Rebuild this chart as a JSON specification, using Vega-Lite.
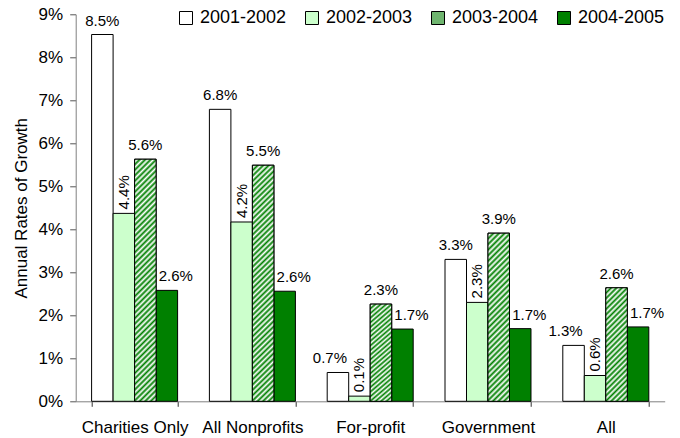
{
  "$schema": "https://vega.github.io/schema/vega-lite/v6.json",
  "width": 589,
  "height": 387,
  "autosize": "none",
  "padding": {"left": 75.7, "top": 14.3, "right": 15.3, "bottom": 36.7},
  "background": "#ffffff",
  "config": {
    "view": {"stroke": null},
    "font": "Liberation Sans",
    "text": {"font": "Liberation Sans"}
  },
  "data": {
    "values": [
      {"sector": "Charities Only", "period": "2001-2002", "rate": 0.0853},
      {"sector": "Charities Only", "period": "2002-2003", "rate": 0.0437},
      {"sector": "Charities Only", "period": "2003-2004", "rate": 0.0563},
      {"sector": "Charities Only", "period": "2004-2005", "rate": 0.0258},
      {"sector": "All Nonprofits", "period": "2001-2002", "rate": 0.0679},
      {"sector": "All Nonprofits", "period": "2002-2003", "rate": 0.0417},
      {"sector": "All Nonprofits", "period": "2003-2004", "rate": 0.0549},
      {"sector": "All Nonprofits", "period": "2004-2005", "rate": 0.0256},
      {"sector": "For-profit", "period": "2001-2002", "rate": 0.0067},
      {"sector": "For-profit", "period": "2002-2003", "rate": 0.0012},
      {"sector": "For-profit", "period": "2003-2004", "rate": 0.0226},
      {"sector": "For-profit", "period": "2004-2005", "rate": 0.0168},
      {"sector": "Government", "period": "2001-2002", "rate": 0.0330},
      {"sector": "Government", "period": "2002-2003", "rate": 0.0230},
      {"sector": "Government", "period": "2003-2004", "rate": 0.0391},
      {"sector": "Government", "period": "2004-2005", "rate": 0.0169},
      {"sector": "All", "period": "2001-2002", "rate": 0.0130},
      {"sector": "All", "period": "2002-2003", "rate": 0.0060},
      {"sector": "All", "period": "2003-2004", "rate": 0.0264},
      {"sector": "All", "period": "2004-2005", "rate": 0.0173}
    ]
  },
  "encoding": {
    "x": {
      "field": "sector",
      "type": "nominal",
      "sort": ["Charities Only", "All Nonprofits", "For-profit", "Government", "All"],
      "scale": {"paddingInner": 0.27, "paddingOuter": 0.135},
      "axis": {
        "title": null,
        "labelAngle": 0,
        "tickBand": "extent",
        "labelFontSize": 17,
        "labelColor": "#000",
        "labelPadding": 13,
        "tickSize": 5,
        "domainColor": "#808080",
        "tickColor": "#333333"
      }
    },
    "xOffset": {
      "field": "period",
      "type": "nominal",
      "sort": ["2001-2002", "2002-2003", "2003-2004", "2004-2005"],
      "scale": {"paddingInner": 0, "paddingOuter": 0}
    },
    "y": {
      "field": "rate",
      "type": "quantitative",
      "scale": {"domain": [0, 0.09], "nice": false},
      "axis": {
        "title": "Annual Rates of Growth",
        "titleFontSize": 17,
        "titleFontWeight": "normal",
        "titleColor": "#000",
        "titlePadding": 8,
        "format": ".0%",
        "values": [0, 0.01, 0.02, 0.03, 0.04, 0.05, 0.06, 0.07, 0.08, 0.09],
        "grid": false,
        "labelFontSize": 17,
        "labelColor": "#000",
        "labelPadding": 7,
        "tickSize": 6,
        "domainColor": "#808080",
        "tickColor": "#555555"
      }
    }
  },
  "layer": [
    {
      "mark": {"type": "bar", "stroke": "#000000", "strokeWidth": 1},
      "encoding": {
        "color": {
          "field": "period",
          "type": "nominal",
          "sort": ["2001-2002", "2002-2003", "2003-2004", "2004-2005"],
          "scale": {"range": ["#ffffff", "#ccffcc", "#6fb56f", "#008000"]},
          "legend": {
            "orient": "none",
            "legendX": 101.3,
            "legendY": -5.3,
            "direction": "horizontal",
            "columns": 4,
            "title": null,
            "padding": 0,
            "symbolType": "square",
            "symbolSize": 169,
            "symbolStrokeColor": "#000000",
            "symbolStrokeWidth": 1,
            "symbolOpacity": 1,
            "labelFontSize": 18,
            "labelColor": "#000",
            "labelOffset": 5,
            "columnPadding": 16,
            "encode": {
              "symbols": {
                "update": {
                  "stroke": {"value": "#000000"},
                  "strokeWidth": {"value": 1}
                }
              }
            }
          }
        }
      }
    },
    {
      "transform": [{"filter": "datum.period == '2003-2004'"}],
      "mark": {"type": "bar", "stroke": "#000000", "strokeWidth": 1},
      "encoding": {
        "fill": {
          "condition": [
            {"test": "datum.sector == 'Charities Only' || datum.sector == 'All Nonprofits'", "value": {"gradient": "linear", "x1": 0, "y1": 0, "x2": 0.09594, "y2": 1.08029, "stops": [
              {"offset": 0, "color": "#008000"}, {"offset": 0.0104, "color": "#ffffff"}, {"offset": 0.0208, "color": "#008000"}, {"offset": 0.0313, "color": "#ffffff"},
              {"offset": 0.0417, "color": "#008000"}, {"offset": 0.0521, "color": "#ffffff"}, {"offset": 0.0625, "color": "#008000"}, {"offset": 0.0729, "color": "#ffffff"},
              {"offset": 0.0833, "color": "#008000"}, {"offset": 0.0938, "color": "#ffffff"}, {"offset": 0.1042, "color": "#008000"}, {"offset": 0.1146, "color": "#ffffff"},
              {"offset": 0.125, "color": "#008000"}, {"offset": 0.1354, "color": "#ffffff"}, {"offset": 0.1458, "color": "#008000"}, {"offset": 0.1563, "color": "#ffffff"},
              {"offset": 0.1667, "color": "#008000"}, {"offset": 0.1771, "color": "#ffffff"}, {"offset": 0.1875, "color": "#008000"}, {"offset": 0.1979, "color": "#ffffff"},
              {"offset": 0.2083, "color": "#008000"}, {"offset": 0.2188, "color": "#ffffff"}, {"offset": 0.2292, "color": "#008000"}, {"offset": 0.2396, "color": "#ffffff"},
              {"offset": 0.25, "color": "#008000"}, {"offset": 0.2604, "color": "#ffffff"}, {"offset": 0.2708, "color": "#008000"}, {"offset": 0.2813, "color": "#ffffff"},
              {"offset": 0.2917, "color": "#008000"}, {"offset": 0.3021, "color": "#ffffff"}, {"offset": 0.3125, "color": "#008000"}, {"offset": 0.3229, "color": "#ffffff"},
              {"offset": 0.3333, "color": "#008000"}, {"offset": 0.3438, "color": "#ffffff"}, {"offset": 0.3542, "color": "#008000"}, {"offset": 0.3646, "color": "#ffffff"},
              {"offset": 0.375, "color": "#008000"}, {"offset": 0.3854, "color": "#ffffff"}, {"offset": 0.3958, "color": "#008000"}, {"offset": 0.4063, "color": "#ffffff"},
              {"offset": 0.4167, "color": "#008000"}, {"offset": 0.4271, "color": "#ffffff"}, {"offset": 0.4375, "color": "#008000"}, {"offset": 0.4479, "color": "#ffffff"},
              {"offset": 0.4583, "color": "#008000"}, {"offset": 0.4688, "color": "#ffffff"}, {"offset": 0.4792, "color": "#008000"}, {"offset": 0.4896, "color": "#ffffff"},
              {"offset": 0.5, "color": "#008000"}, {"offset": 0.5104, "color": "#ffffff"}, {"offset": 0.5208, "color": "#008000"}, {"offset": 0.5313, "color": "#ffffff"},
              {"offset": 0.5417, "color": "#008000"}, {"offset": 0.5521, "color": "#ffffff"}, {"offset": 0.5625, "color": "#008000"}, {"offset": 0.5729, "color": "#ffffff"},
              {"offset": 0.5833, "color": "#008000"}, {"offset": 0.5938, "color": "#ffffff"}, {"offset": 0.6042, "color": "#008000"}, {"offset": 0.6146, "color": "#ffffff"},
              {"offset": 0.625, "color": "#008000"}, {"offset": 0.6354, "color": "#ffffff"}, {"offset": 0.6458, "color": "#008000"}, {"offset": 0.6563, "color": "#ffffff"},
              {"offset": 0.6667, "color": "#008000"}, {"offset": 0.6771, "color": "#ffffff"}, {"offset": 0.6875, "color": "#008000"}, {"offset": 0.6979, "color": "#ffffff"},
              {"offset": 0.7083, "color": "#008000"}, {"offset": 0.7188, "color": "#ffffff"}, {"offset": 0.7292, "color": "#008000"}, {"offset": 0.7396, "color": "#ffffff"},
              {"offset": 0.75, "color": "#008000"}, {"offset": 0.7604, "color": "#ffffff"}, {"offset": 0.7708, "color": "#008000"}, {"offset": 0.7813, "color": "#ffffff"},
              {"offset": 0.7917, "color": "#008000"}, {"offset": 0.8021, "color": "#ffffff"}, {"offset": 0.8125, "color": "#008000"}, {"offset": 0.8229, "color": "#ffffff"},
              {"offset": 0.8333, "color": "#008000"}, {"offset": 0.8438, "color": "#ffffff"}, {"offset": 0.8542, "color": "#008000"}, {"offset": 0.8646, "color": "#ffffff"},
              {"offset": 0.875, "color": "#008000"}, {"offset": 0.8854, "color": "#ffffff"}, {"offset": 0.8958, "color": "#008000"}, {"offset": 0.9063, "color": "#ffffff"},
              {"offset": 0.9167, "color": "#008000"}, {"offset": 0.9271, "color": "#ffffff"}, {"offset": 0.9375, "color": "#008000"}, {"offset": 0.9479, "color": "#ffffff"},
              {"offset": 0.9583, "color": "#008000"}, {"offset": 0.9688, "color": "#ffffff"}, {"offset": 0.9792, "color": "#008000"}, {"offset": 0.9896, "color": "#ffffff"},
              {"offset": 1, "color": "#008000"}
            ]}},
            {"test": "datum.sector == 'Government'", "value": {"gradient": "linear", "x1": 0, "y1": 0, "x2": 0.14194, "y2": 1.10975, "stops": [
              {"offset": 0, "color": "#008000"}, {"offset": 0.0147, "color": "#ffffff"}, {"offset": 0.0294, "color": "#008000"}, {"offset": 0.0441, "color": "#ffffff"},
              {"offset": 0.0588, "color": "#008000"}, {"offset": 0.0735, "color": "#ffffff"}, {"offset": 0.0882, "color": "#008000"}, {"offset": 0.1029, "color": "#ffffff"},
              {"offset": 0.1176, "color": "#008000"}, {"offset": 0.1324, "color": "#ffffff"}, {"offset": 0.1471, "color": "#008000"}, {"offset": 0.1618, "color": "#ffffff"},
              {"offset": 0.1765, "color": "#008000"}, {"offset": 0.1912, "color": "#ffffff"}, {"offset": 0.2059, "color": "#008000"}, {"offset": 0.2206, "color": "#ffffff"},
              {"offset": 0.2353, "color": "#008000"}, {"offset": 0.25, "color": "#ffffff"}, {"offset": 0.2647, "color": "#008000"}, {"offset": 0.2794, "color": "#ffffff"},
              {"offset": 0.2941, "color": "#008000"}, {"offset": 0.3088, "color": "#ffffff"}, {"offset": 0.3235, "color": "#008000"}, {"offset": 0.3382, "color": "#ffffff"},
              {"offset": 0.3529, "color": "#008000"}, {"offset": 0.3676, "color": "#ffffff"}, {"offset": 0.3824, "color": "#008000"}, {"offset": 0.3971, "color": "#ffffff"},
              {"offset": 0.4118, "color": "#008000"}, {"offset": 0.4265, "color": "#ffffff"}, {"offset": 0.4412, "color": "#008000"}, {"offset": 0.4559, "color": "#ffffff"},
              {"offset": 0.4706, "color": "#008000"}, {"offset": 0.4853, "color": "#ffffff"}, {"offset": 0.5, "color": "#008000"}, {"offset": 0.5147, "color": "#ffffff"},
              {"offset": 0.5294, "color": "#008000"}, {"offset": 0.5441, "color": "#ffffff"}, {"offset": 0.5588, "color": "#008000"}, {"offset": 0.5735, "color": "#ffffff"},
              {"offset": 0.5882, "color": "#008000"}, {"offset": 0.6029, "color": "#ffffff"}, {"offset": 0.6176, "color": "#008000"}, {"offset": 0.6324, "color": "#ffffff"},
              {"offset": 0.6471, "color": "#008000"}, {"offset": 0.6618, "color": "#ffffff"}, {"offset": 0.6765, "color": "#008000"}, {"offset": 0.6912, "color": "#ffffff"},
              {"offset": 0.7059, "color": "#008000"}, {"offset": 0.7206, "color": "#ffffff"}, {"offset": 0.7353, "color": "#008000"}, {"offset": 0.75, "color": "#ffffff"},
              {"offset": 0.7647, "color": "#008000"}, {"offset": 0.7794, "color": "#ffffff"}, {"offset": 0.7941, "color": "#008000"}, {"offset": 0.8088, "color": "#ffffff"},
              {"offset": 0.8235, "color": "#008000"}, {"offset": 0.8382, "color": "#ffffff"}, {"offset": 0.8529, "color": "#008000"}, {"offset": 0.8676, "color": "#ffffff"},
              {"offset": 0.8824, "color": "#008000"}, {"offset": 0.8971, "color": "#ffffff"}, {"offset": 0.9118, "color": "#008000"}, {"offset": 0.9265, "color": "#ffffff"},
              {"offset": 0.9412, "color": "#008000"}, {"offset": 0.9559, "color": "#ffffff"}, {"offset": 0.9706, "color": "#008000"}, {"offset": 0.9853, "color": "#ffffff"},
              {"offset": 1, "color": "#008000"}
            ]}}
          ],
          "value": {"gradient": "linear", "x1": 0, "y1": 0, "x2": 0.2175, "y2": 1.14823, "stops": [
            {"offset": 0, "color": "#008000"}, {"offset": 0.02, "color": "#ffffff"}, {"offset": 0.04, "color": "#008000"}, {"offset": 0.06, "color": "#ffffff"},
            {"offset": 0.08, "color": "#008000"}, {"offset": 0.1, "color": "#ffffff"}, {"offset": 0.12, "color": "#008000"}, {"offset": 0.14, "color": "#ffffff"},
            {"offset": 0.16, "color": "#008000"}, {"offset": 0.18, "color": "#ffffff"}, {"offset": 0.2, "color": "#008000"}, {"offset": 0.22, "color": "#ffffff"},
            {"offset": 0.24, "color": "#008000"}, {"offset": 0.26, "color": "#ffffff"}, {"offset": 0.28, "color": "#008000"}, {"offset": 0.3, "color": "#ffffff"},
            {"offset": 0.32, "color": "#008000"}, {"offset": 0.34, "color": "#ffffff"}, {"offset": 0.36, "color": "#008000"}, {"offset": 0.38, "color": "#ffffff"},
            {"offset": 0.4, "color": "#008000"}, {"offset": 0.42, "color": "#ffffff"}, {"offset": 0.44, "color": "#008000"}, {"offset": 0.46, "color": "#ffffff"},
            {"offset": 0.48, "color": "#008000"}, {"offset": 0.5, "color": "#ffffff"}, {"offset": 0.52, "color": "#008000"}, {"offset": 0.54, "color": "#ffffff"},
            {"offset": 0.56, "color": "#008000"}, {"offset": 0.58, "color": "#ffffff"}, {"offset": 0.6, "color": "#008000"}, {"offset": 0.62, "color": "#ffffff"},
            {"offset": 0.64, "color": "#008000"}, {"offset": 0.66, "color": "#ffffff"}, {"offset": 0.68, "color": "#008000"}, {"offset": 0.7, "color": "#ffffff"},
            {"offset": 0.72, "color": "#008000"}, {"offset": 0.74, "color": "#ffffff"}, {"offset": 0.76, "color": "#008000"}, {"offset": 0.78, "color": "#ffffff"},
            {"offset": 0.8, "color": "#008000"}, {"offset": 0.82, "color": "#ffffff"}, {"offset": 0.84, "color": "#008000"}, {"offset": 0.86, "color": "#ffffff"},
            {"offset": 0.88, "color": "#008000"}, {"offset": 0.9, "color": "#ffffff"}, {"offset": 0.92, "color": "#008000"}, {"offset": 0.94, "color": "#ffffff"},
            {"offset": 0.96, "color": "#008000"}, {"offset": 0.98, "color": "#ffffff"}, {"offset": 1, "color": "#008000"}
          ]}
        }
      }
    },
    {
      "transform": [{"filter": "(datum.period == '2001-2002' || datum.period == '2003-2004') && !(datum.period == '2001-2002' && (datum.sector == 'For-profit' || datum.sector == 'All'))"}],
      "mark": {"type": "text", "baseline": "alphabetic", "align": "center", "dy": -9, "fontSize": 15, "color": "#000"},
      "encoding": {"text": {"field": "rate", "format": ".1%"}}
    },
    {
      "transform": [{"filter": "datum.period == '2001-2002' && (datum.sector == 'For-profit' || datum.sector == 'All')"}],
      "mark": {"type": "text", "baseline": "alphabetic", "align": "center", "dy": -9, "dx": -8, "fontSize": 15, "color": "#000"},
      "encoding": {"text": {"field": "rate", "format": ".1%"}}
    },
    {
      "transform": [{"filter": "datum.period == '2004-2005'"}],
      "mark": {"type": "text", "baseline": "alphabetic", "align": "center", "dy": -9, "dx": 9, "fontSize": 15, "color": "#000"},
      "encoding": {"text": {"field": "rate", "format": ".1%"}}
    },
    {
      "transform": [{"filter": "datum.period == '2002-2003'"}],
      "mark": {"type": "text", "baseline": "middle", "align": "left", "angle": 270, "dx": 4, "fontSize": 15, "color": "#000"},
      "encoding": {"text": {"field": "rate", "format": ".1%"}}
    }
  ]
}
